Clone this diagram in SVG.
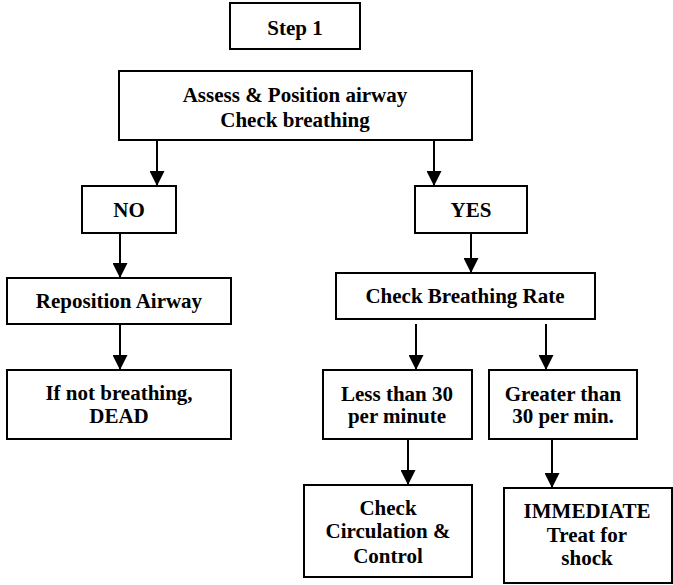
<svg xmlns="http://www.w3.org/2000/svg" width="673" height="585" viewBox="0 0 673 585">
<style>
rect{fill:#fff;stroke:#000;stroke-width:2}
text{font-family:"Liberation Serif","Times New Roman",serif;font-weight:bold;font-size:21px;fill:#000;text-anchor:middle}
.c line{stroke:#000;stroke-width:2}
</style>
<defs>
<marker id="ah" markerUnits="userSpaceOnUse" markerWidth="15" markerHeight="15" refX="15" refY="7.5" orient="auto">
<path d="M0,0 L15,7.5 L0,15 z" fill="#000"/>
</marker>
</defs>
<rect x="0" y="0" width="673" height="585" style="stroke:none"/>
<g class="c">
<line x1="157" y1="140" x2="157" y2="186" marker-end="url(#ah)"/>
<line x1="434" y1="140" x2="434" y2="186" marker-end="url(#ah)"/>
<line x1="120" y1="233" x2="120" y2="278" marker-end="url(#ah)"/>
<line x1="120" y1="324" x2="120" y2="370" marker-end="url(#ah)"/>
<line x1="471" y1="233" x2="471" y2="273" marker-end="url(#ah)"/>
<line x1="416" y1="324" x2="416" y2="370" marker-end="url(#ah)"/>
<line x1="546" y1="324" x2="546" y2="370" marker-end="url(#ah)"/>
<line x1="408" y1="439" x2="408" y2="485" marker-end="url(#ah)"/>
<line x1="552" y1="439" x2="552" y2="488" marker-end="url(#ah)"/>
</g>
<g id="step1"><rect x="230" y="3" width="130" height="46"/><text x="295" y="35">Step 1</text></g>
<g id="assess"><rect x="119" y="71" width="353" height="69"/><text x="295" y="102">Assess &amp; Position airway</text><text x="295" y="127">Check breathing</text></g>
<g id="no"><rect x="82" y="186" width="94" height="47"/><text x="129" y="217">NO</text></g>
<g id="yes"><rect x="415" y="186" width="112" height="47"/><text x="471" y="217">YES</text></g>
<g id="reposition"><rect x="7" y="278" width="224" height="46"/><text x="119" y="308">Reposition Airway</text></g>
<g id="dead"><rect x="7" y="370" width="224" height="69"/><text x="119" y="400">If not breathing,</text><text x="119" y="423">DEAD</text></g>
<g id="rate"><rect x="336" y="273" width="259" height="46"/><text x="465" y="303">Check Breathing Rate</text></g>
<g id="less"><rect x="323" y="370" width="149" height="69"/><text x="397" y="401">Less than 30</text><text x="397" y="423">per minute</text></g>
<g id="greater"><rect x="489" y="370" width="148" height="69"/><text x="563" y="401">Greater than</text><text x="563" y="423">30 per min.</text></g>
<g id="circ"><rect x="304" y="485" width="168" height="92"/><text x="388" y="515">Check</text><text x="388" y="538">Circulation &amp;</text><text x="388" y="563">Control</text></g>
<g id="immediate"><rect x="504" y="488" width="168" height="95"/><text x="587" y="518">IMMEDIATE</text><text x="587" y="542">Treat for</text><text x="587" y="565">shock</text></g>
</svg>
